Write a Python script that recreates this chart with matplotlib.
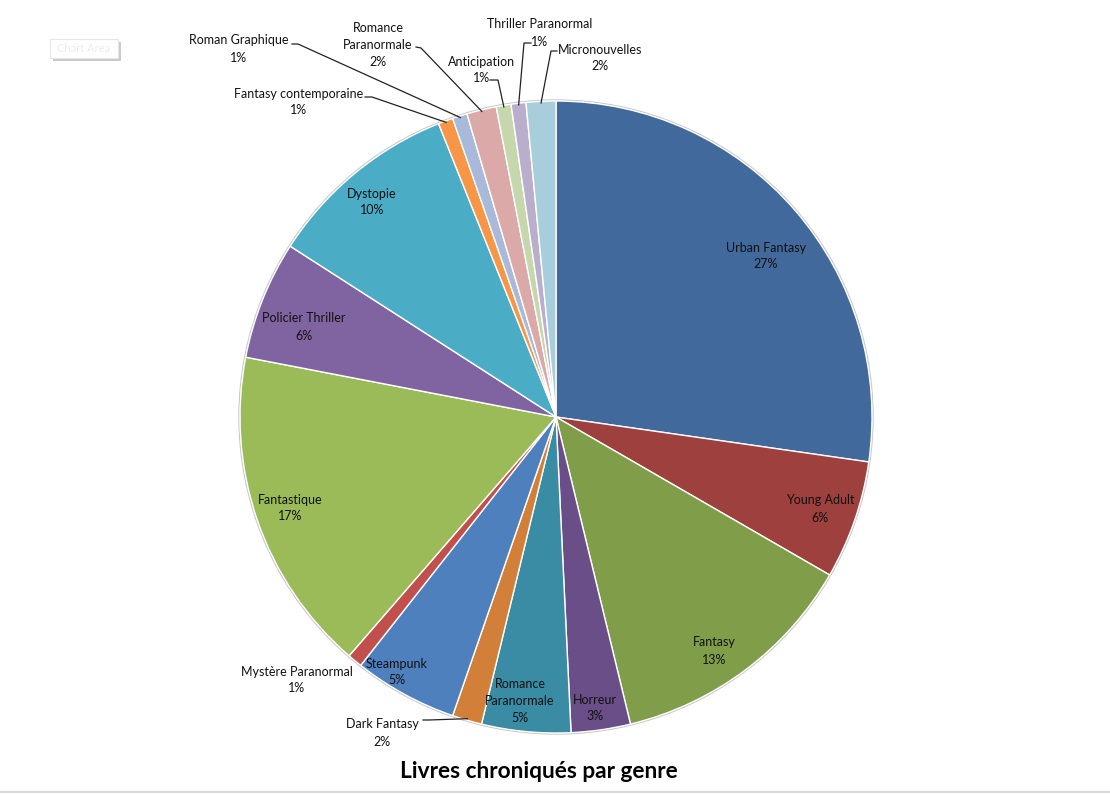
import math
import matplotlib
matplotlib.use("Agg")
import matplotlib.pyplot as plt
from matplotlib.patches import Rectangle, Circle

# ---------------- data ----------------
categories = [
    "Urban Fantasy", "Young Adult", "Fantasy", "Horreur", "Romance\nParanormale",
    "Dark Fantasy", "Steampunk", "Mystère Paranormal", "Fantastique",
    "Policier Thriller", "Dystopie", "Fantasy contemporaine", "Roman Graphique",
    "Romance\nParanormale", "Anticipation", "Thriller Paranormal", "Micronouvelles",
]
counts = [36, 8, 17, 4, 6, 2, 7, 1, 22, 8, 13, 1, 1, 2, 1, 1, 2]
colors = [
    "#41699B", "#9E403D", "#809E4A", "#6A4E87", "#3A8CA4",
    "#D27F39", "#4F80BE", "#C1504D", "#9BBB59", "#8064A2",
    "#4BACC6", "#F79646", "#A8B9DA", "#DAA9A8", "#C6D7AD",
    "#B9AECB", "#A7CEDA",
]
title = "Livres chroniqués par genre"

# ---------------- layout (pixel units) ----------------
W, H = 1110, 794
CX, CY, R = 556, 417, 316
FONT = "Lato"
FS = 9.0
LS = 1.5

# label block centres, leader anchor and stub end (None = no leader)
label_layout = {
    0:  ((766, 256), None, None),
    1:  ((820, 509), None, None),
    2:  ((714, 651), None, None),
    3:  ((595, 708), None, None),
    4:  ((520, 701), None, None),
    5:  ((382, 733), (423, 720), (429, 720)),
    6:  ((397, 672), None, None),
    7:  ((297, 680), None, None),
    8:  ((290, 508), None, None),
    9:  ((304, 327), None, None),
    10: ((372, 202), None, None),
    11: ((299, 102), (365, 97), (372, 97)),
    12: ((239, 49), (292, 44), (298, 44)),
    13: ((378, 45), (416, 47), (421, 48)),
    14: ((482, 70), (490, 80), (498, 80)),
    15: ((540, 33), (531, 43), (524, 43)),
    16: ((600, 58), (557, 51), (551, 51)),
}


def P(px, py):
    return (px, H - py)


fig = plt.figure(figsize=(W / 100, H / 100), dpi=100)
ax = fig.add_axes([0, 0, 1, 1])

wedges, _ = ax.pie(
    counts, colors=colors, startangle=90, counterclock=False,
    center=P(CX, CY), radius=R,
    wedgeprops=dict(edgecolor="white", linewidth=1.0),
)
ax.add_patch(Circle(P(CX, CY), R + 1, fill=False, edgecolor="#C8C8C8",
                    linewidth=1.0, zorder=0))
ax.set_xlim(0, W)
ax.set_ylim(0, H)
ax.axis("off")

total = sum(counts)
for i, (w, name, c) in enumerate(zip(wedges, categories, counts)):
    pct = int(math.floor(c / total * 100 + 0.5))
    text = f"{name}\n{pct}%"
    mid = math.radians((w.theta1 + w.theta2) / 2)
    cx, cy = w.center
    (tx, ty), anc, stub = label_layout[i]
    ax.text(*P(tx, ty), text, ha="center", va="center", fontsize=FS,
            family=FONT, color="#111111", linespacing=LS)
    if anc is not None:
        ex = cx + R * 0.995 * math.cos(mid)
        ey = cy + R * 0.995 * math.sin(mid)
        a = P(*anc)
        s = P(*stub)
        ax.plot([a[0], s[0], ex], [a[1], s[1], ey], color="#222222",
                linewidth=0.9, solid_joinstyle="miter")

ax.text(*P(539, 771), title, ha="center", va="center", fontsize=16.3,
        family=FONT, fontweight="bold", color="black")

# "Chart Area" tooltip
ax.add_patch(Rectangle(P(53, 61), 68, 19, facecolor="#BDBDBD",
                       edgecolor="none", alpha=0.8))
ax.add_patch(Rectangle(P(50, 58), 68, 19, facecolor="white",
                       edgecolor="#E6E6E6", linewidth=0.8))
ax.text(*P(84, 48), "Chart Area", ha="center", va="center", fontsize=8,
        family=FONT, color="#EDEDED")

# bottom border
ax.plot([0, W], [H - 792, H - 792], color="#D9D9D9", linewidth=1.5)

fig.savefig("out.png", dpi=100)
